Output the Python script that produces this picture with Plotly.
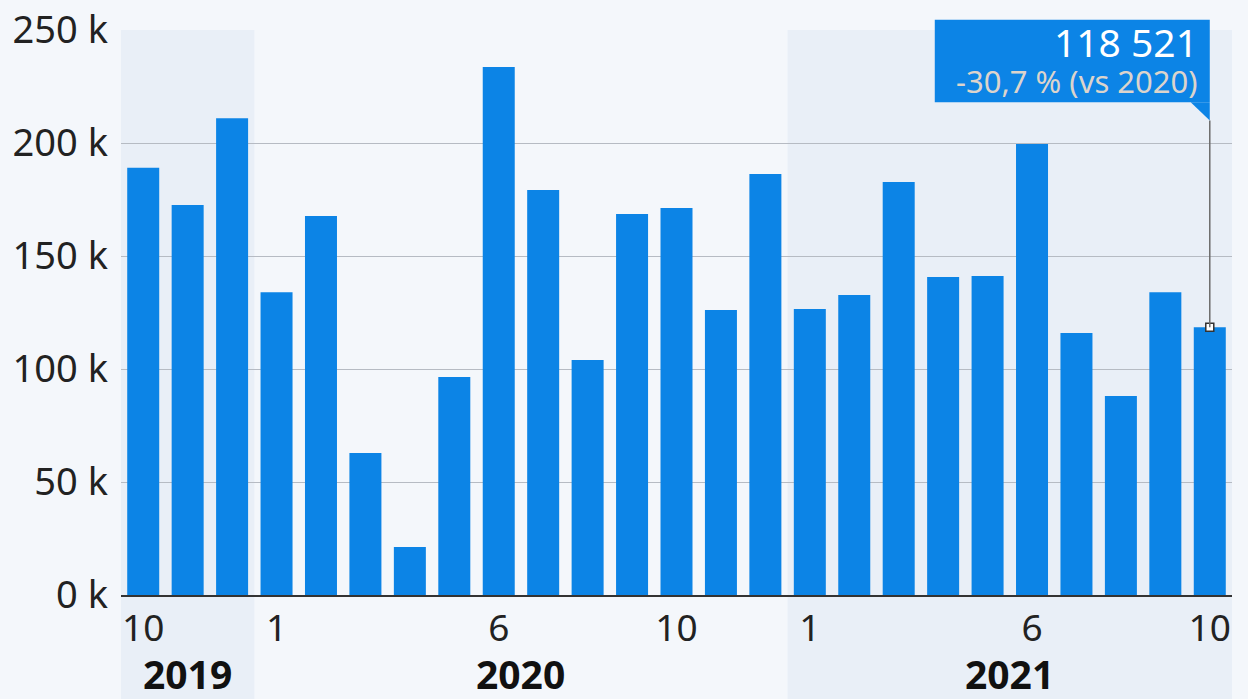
import plotly.graph_objects as go

# Data: monthly values Oct 2019 .. Oct 2021
months = [10, 11, 12, 1, 2, 3, 4, 5, 6, 7, 8, 9, 10, 11, 12,
          1, 2, 3, 4, 5, 6, 7, 8, 9, 10]
years = [2019]*3 + [2020]*12 + [2021]*10
values = [189000, 172600, 211000, 134000, 167700, 62800, 21200, 96500,
          233600, 179200, 104000, 168600, 171200, 126100, 186300,
          126500, 132700, 182700, 140700, 141200, 199600, 115900, 88000,
          134000, 118521]
tick_idx = [0, 3, 8, 12, 15, 20, 24]
y_ticks = [0, 50000, 100000, 150000, 200000, 250000]
y_ticktext = ["0 k", "50 k", "100 k", "150 k", "200 k", "250 k"]
last_label = "118 521"
last_change = "-30,7 % (vs 2020)"

BLUE = "#0c84e6"
BG = "#f4f7fb"
BAND = "#e9eff7"
FONT = "Noto Sans"
YMAX = 250000

x = list(range(len(values)))

fig = go.Figure()
fig.add_trace(go.Bar(x=x, y=values, marker_color=BLUE, marker_line_width=0,
                     hoverinfo="skip"))

year_list = sorted(set(years))
shapes = []
annotations = []
for i, yr in enumerate(year_list):
    idxs = [k for k, v in enumerate(years) if v == yr]
    x0, x1 = idxs[0] - 0.5, idxs[-1] + 0.5
    if i % 2 == 0:
        shapes.append(dict(type="rect", xref="x", yref="paper", x0=x0, x1=x1,
                           y0=-0.2, y1=1, fillcolor=BAND, line_width=0,
                           layer="below"))
    annotations.append(dict(x=(x0 + x1) / 2, xref="x", y=-0.139, yref="paper",
                            text=f"<b>{yr}</b>", showarrow=False,
                            yanchor="middle",
                            font=dict(family=FONT, size=39, color="#111")))

# callout for last value
li = len(values) - 1
lv = values[-1]
box_top = 254500 / YMAX
box_bottom = 218000 / YMAX
tail_bottom = 210000 / YMAX
shapes.append(dict(type="line", xref="x", yref="y", x0=li, x1=li,
                   y0=lv, y1=tail_bottom * YMAX, line=dict(color="#6b6b6b", width=1.5)))
shapes.append(dict(type="rect", xref="x", xsizemode="pixel", xanchor=li,
                   x0=-275, x1=0, yref="paper", y0=box_bottom, y1=box_top,
                   fillcolor=BLUE, line_width=0))
shapes.append(dict(type="path", xref="x", yref="paper",
                   path=f"M {li-0.43},{box_bottom} L {li},{box_bottom} L {li},{tail_bottom} Z",
                   fillcolor=BLUE, line_width=0))
annotations.append(dict(
    x=li, xref="x", xshift=-10, y=0.980, yref="paper", xanchor="right",
    yanchor="middle", showarrow=False,
    text=last_label, font=dict(family=FONT, size=39, color="white")))
annotations.append(dict(
    x=li, xref="x", xshift=-10, y=0.909, yref="paper", xanchor="right",
    yanchor="middle", showarrow=False,
    text=last_change, font=dict(family=FONT, size=31, color="#dcd4cc")))

fig.add_trace(go.Scatter(x=[li], y=[lv], mode="markers",
                         marker=dict(symbol="square", size=8, color="white",
                                     line=dict(color="#333", width=1.5)),
                         hoverinfo="skip", cliponaxis=False))

fig.update_layout(
    width=1248, height=699,
    margin=dict(l=121, r=16, t=30, b=104, autoexpand=False),
    paper_bgcolor=BG, plot_bgcolor=BG,
    showlegend=False, bargap=0.28,
    shapes=shapes, annotations=annotations,
    font=dict(family=FONT, color="#222"),
)
fig.update_xaxes(range=[-0.5, len(values) - 0.5], tickmode="array",
                 tickvals=tick_idx, ticktext=[str(months[i]) for i in tick_idx],
                 showgrid=False, showline=True, linecolor="#333", linewidth=1.5,
                 ticks="", tickfont=dict(family=FONT, size=37, color="#222"),
                 fixedrange=True)
fig.update_yaxes(range=[0, YMAX], tickmode="array", tickvals=y_ticks,
                 ticktext=y_ticktext, showgrid=True, gridcolor="#b6bbc3",
                 gridwidth=1, zeroline=False, ticks="", ticklabelstandoff=12,
                 tickfont=dict(family=FONT, size=38, color="#222"),
                 fixedrange=True)

fig.write_html("out.html", config={"displayModeBar": False},
               post_script="document.body.style.margin='0';document.body.style.overflow='hidden';")
